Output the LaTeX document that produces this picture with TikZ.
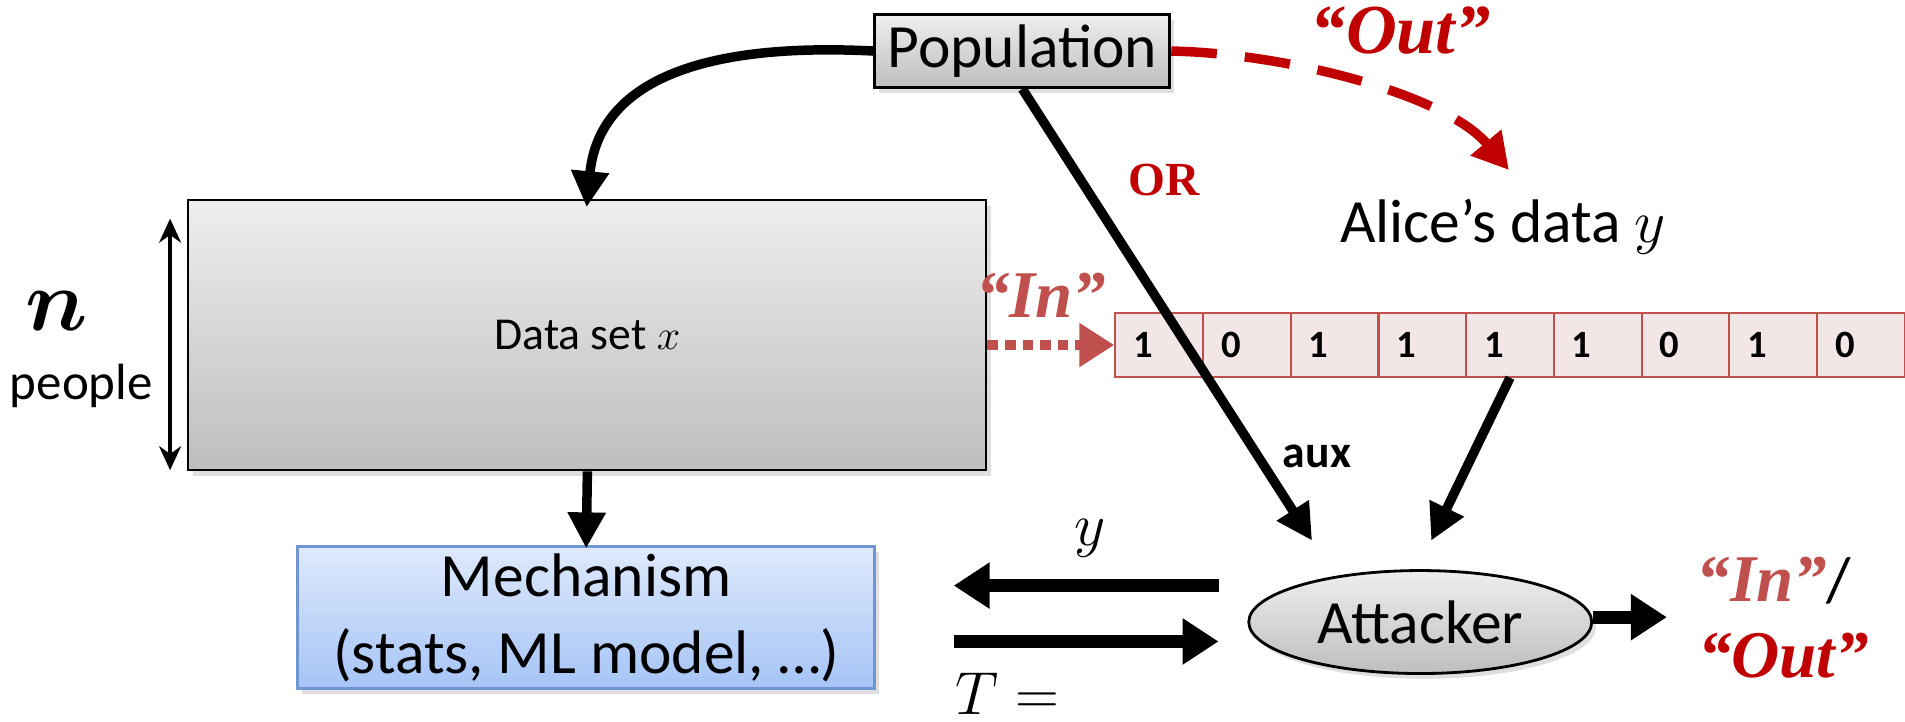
\documentclass[tikz,border=0pt]{standalone}
\usepackage{amsmath,amssymb}
\usepackage{fontspec}
\setmainfont{Carlito}
\newfontfamily\tnr{Liberation Serif}
\usetikzlibrary{arrows.meta,shadows,shapes.geometric,positioning}
\definecolor{OutRed}{RGB}{192,0,0}
\definecolor{InRed}{RGB}{192,80,77}
\definecolor{CellPink}{RGB}{242,230,230}
\definecolor{MechTop}{RGB}{222,233,252}
\definecolor{MechBot}{RGB}{165,196,246}
\definecolor{MechLine}{RGB}{110,150,210}
\definecolor{BoxTop}{RGB}{238,238,238}
\definecolor{BoxBot}{RGB}{190,190,190}
\newcommand\bigfont{\fontsize{17.5}{19.5}\selectfont}
\newcommand\midfont{\fontsize{13}{15}\selectfont}
\newcommand\bitfont{\bfseries\fontsize{11}{11}\selectfont}
\newcommand\quotefont{\tnr\bfseries\itshape\fontsize{19}{19}\selectfont}

\begin{document}
\begin{tikzpicture}[x=0.1215mm,y=-0.1215mm,
  graybox/.style={draw=black,line width=0.8pt,top color=BoxTop,bottom color=BoxBot,
    drop shadow={opacity=0.25,shadow xshift=1.2pt,shadow yshift=-1.5pt}},
  bit/.style={draw=InRed,line width=0.6pt,fill=CellPink,minimum height=6.32mm,
    text width=5.17mm,inner xsep=1.8mm,inner ysep=0pt,align=left,font=\bitfont},
  blk/.style={line width=2.7pt,-{Triangle[length=3.6mm,width=3.6mm]}},
  fat/.style={line width=3.8pt,-{Triangle[length=3.6mm,width=4.4mm]}}]
\useasboundingbox (0,0) rectangle (1568,594);
% boxes
\node[graybox,minimum width=29.5mm,minimum height=7.3mm,inner sep=0pt,font=\bigfont] (pop) at (841.5,42) {Population};
\node[graybox,line width=0.6pt,minimum width=79.8mm,minimum height=27mm,inner sep=0pt,font=\midfont] (data) at (483.5,276) {Data set $x$};
\node[draw=MechLine,line width=0.8pt,top color=MechTop,bottom color=MechBot,
  drop shadow={opacity=0.25,shadow xshift=1.2pt,shadow yshift=-1.5pt},
  minimum width=57.7mm,minimum height=14.2mm,inner sep=0pt,align=center,font=\bigfont] (mech) at (482.5,508.5) {Mechanism\\[2.5pt](stats, ML model, …)};
\node[graybox,ellipse,minimum width=34.3mm,minimum height=10.3mm,inner sep=0pt,font=\bigfont] (att) at (1169,512) {Attacker};
\node[font=\bigfont] (alice) at (1237,187) {Alice’s data $y$};
% Alice's bits
\foreach \v [count=\i] in {1,0,1,1,1,1,0,1,0}
  \node[bit] (b\i) at ({954.1+72.2*(\i-1)},284) {\v};
% n people
\node[font=\fontsize{26}{26}\selectfont] (n) at (47,256) {$\boldsymbol{n}$};
\node[font=\fontsize{14.5}{14.5}\selectfont] (ppl) at (67,318) {people};
\coordinate (ntop) at (140,180);
\coordinate (nbot) at (140,387);
\draw[line width=1pt,{Stealth[length=2.4mm,width=2.2mm]}-{Stealth[length=2.4mm,width=2.2mm]}] (ntop) -- (nbot);
% labels
\node[font=\quotefont\fontsize{20}{20}\selectfont,text=OutRed] (outtop) at (1153,25) {“Out”};
\node[font=\quotefont,text=InRed] (intop) at (857,243) {“In”};
\node[font=\tnr\bfseries\fontsize{13.5}{13.5}\selectfont,text=OutRed] (or) at (958,148) {OR};
\node[font=\bfseries\fontsize{13}{13}\selectfont] (aux) at (1084,376) {aux};
\node[font=\bigfont] (ylab) at (897,443) {$y$};
\node[font=\bigfont,inner sep=0.5pt] (tlab) at (829,571) {$T =$};
\node[font=\quotefont,text=InRed] (vin) at (1460,478) {“In”\textcolor{black}{\normalfont\fontsize{18}{18}\selectfont/}};
\node[font=\quotefont,text=OutRed] (vout) at (1468,540) {“Out”};
% connectors
\coordinate (auxend) at (1080,445);
\coordinate (bitend) at (1178,445);
\coordinate (outend) at (1242,140);
\coordinate (resend) at (1372,508);
\coordinate (qR) at (1003,482);
\coordinate (qL) at (785,482);
\coordinate (aL) at (785,528);
\coordinate (aR) at (1003,528);
\draw[blk,shorten >=-0.8mm] (pop.west) .. controls (560,34) and (492,76) .. (data.north);
\draw[blk,shorten >=-0.3mm] (data.south) -- (mech.north);
\draw[blk] (pop.south) -- (auxend);
\draw[blk] (b5.south) -- (bitend);
\draw[OutRed,line width=2.7pt,dash pattern=on 13pt off 8pt,-{Triangle[length=3.6mm,width=3.8mm]}] (pop.east) .. controls (1060,44) and (1190,78) .. (outend);
\draw[InRed,line width=2.8pt,dash pattern=on 3pt off 2pt,-{Triangle[length=3.5mm,width=4.2mm]}] (data.east |- b1.west) -- (b1.west);
\draw[fat] (qR) -- (qL);
\draw[fat] (aL) -- (aR);
\draw[fat] (att.east |- resend) -- (resend);
\end{tikzpicture}
\end{document}
